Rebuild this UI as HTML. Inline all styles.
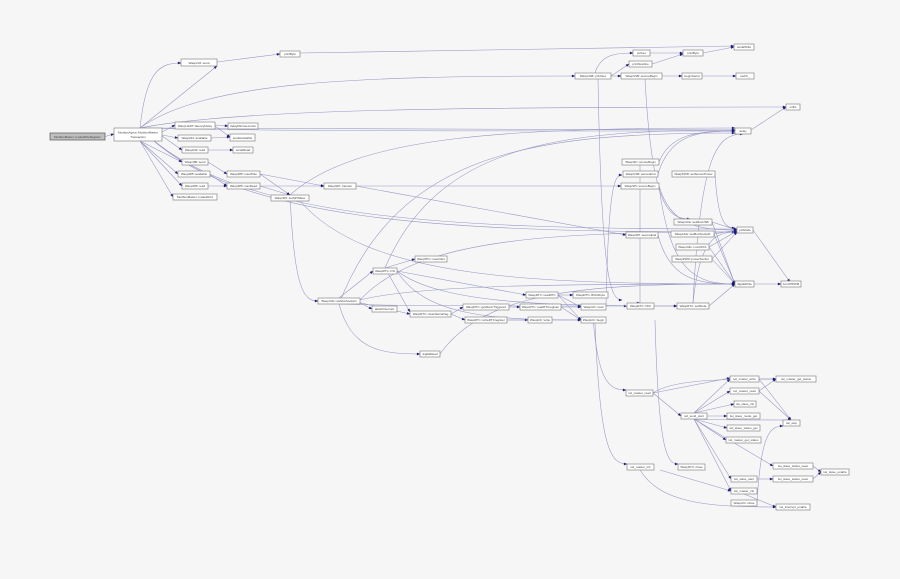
<!DOCTYPE html>
<html><head><meta charset="utf-8"><style>
html,body{margin:0;padding:0;background:#f6f6f6;}
svg{display:block}
text{font-family:"Liberation Sans",sans-serif;font-size:3px;fill:#444;}
rect{fill:#fff;stroke:#888;stroke-width:0.7}
path{fill:none;stroke:#9595c4;stroke-width:0.55}
</style></head><body>
<svg id="g" width="900" height="579" viewBox="0 0 900 579" xmlns="http://www.w3.org/2000/svg">
<g id="edges"></g>
<g id="nodes">
<rect x="50" y="133" width="55" height="7" style="fill:#bfbfbf;stroke:#555"/><text x="77.5" y="137.8" text-anchor="middle">ModbusMaster::makeWriteRegister</text>
<rect x="114" y="128" width="48" height="13"/><text x="138" y="133.5" text-anchor="middle">ModbusAgent::ModbusMaster</text><text x="138" y="138" text-anchor="middle">Transaction</text>
<rect x="181" y="59" width="36" height="7"/><text x="199" y="63.8" text-anchor="middle">Wasp232::send</text>
<rect x="280" y="51" width="20" height="6"/><text x="290" y="55.2" text-anchor="middle">printByte</text>
<rect x="175" y="122" width="40" height="7"/><text x="195" y="126.8" text-anchor="middle">WaspUART::latencyDelay</text>
<rect x="228" y="123" width="30" height="6"/><text x="243" y="127.2" text-anchor="middle">delayMicroseconds</text>
<rect x="178" y="135" width="33" height="6"/><text x="194.5" y="139.2" text-anchor="middle">Wasp232::available</text>
<rect x="230" y="134" width="25" height="7"/><text x="242.5" y="138.8" text-anchor="middle">serialAvailable</text>
<rect x="182" y="147" width="26" height="6"/><text x="195" y="151.2" text-anchor="middle">Wasp232::read</text>
<rect x="233" y="147" width="20" height="6"/><text x="243" y="151.2" text-anchor="middle">serialRead</text>
<rect x="182" y="159" width="26" height="6"/><text x="195" y="163.2" text-anchor="middle">Wasp485::send</text>
<rect x="178" y="171" width="32" height="6"/><text x="194" y="175.2" text-anchor="middle">Wasp485::available</text>
<rect x="182" y="183" width="26" height="6"/><text x="195" y="187.2" text-anchor="middle">Wasp485::read</text>
<rect x="173" y="194" width="44" height="6"/><text x="195" y="198.2" text-anchor="middle">ModbusMaster::makeWord</text>
<rect x="227" y="171" width="33" height="6"/><text x="243.5" y="175.2" text-anchor="middle">Wasp485::maxWrite</text>
<rect x="227" y="183" width="33" height="6"/><text x="243.5" y="187.2" text-anchor="middle">Wasp485::maxRead</text>
<rect x="271" y="195" width="38" height="6"/><text x="290" y="199.2" text-anchor="middle">WaspSPI::setSPISlave</text>
<rect x="324" y="183" width="32" height="6"/><text x="340" y="187.2" text-anchor="middle">WaspSPI::transfer</text>
<rect x="575" y="73" width="36" height="6"/><text x="593" y="77.2" text-anchor="middle">WaspUSB::printHex</text>
<rect x="621" y="73" width="41" height="6"/><text x="641.5" y="77.2" text-anchor="middle">WaspUSB::secureBegin</text>
<rect x="682" y="73" width="20" height="6"/><text x="692" y="77.2" text-anchor="middle">beginSerial</text>
<rect x="736" y="73" width="18" height="6"/><text x="745" y="77.2" text-anchor="middle">serFF_</text>
<rect x="734" y="44" width="20" height="6"/><text x="744" y="48.2" text-anchor="middle">serialWrite</text>
<rect x="683" y="50" width="20" height="6"/><text x="693" y="54.2" text-anchor="middle">printByte</text>
<rect x="633" y="50" width="17" height="6"/><text x="641.5" y="54.2" text-anchor="middle">puthex</text>
<rect x="629" y="61" width="23" height="6"/><text x="640.5" y="65.2" text-anchor="middle">printNewline</text>
<rect x="786" y="104" width="14" height="6"/><text x="793" y="108.2" text-anchor="middle">millis</text>
<rect x="735" y="128" width="16" height="6"/><text x="743" y="132.2" text-anchor="middle">delay</text>
<rect x="622" y="159" width="37" height="6"/><text x="640.5" y="163.2" text-anchor="middle">WaspI2C::secureBegin</text>
<rect x="623" y="171" width="35" height="6"/><text x="640.5" y="175.2" text-anchor="middle">WaspUSB::secureEnd</text>
<rect x="672" y="171" width="43" height="6"/><text x="693.5" y="175.2" text-anchor="middle">WaspPWR::setSensorPower</text>
<rect x="621" y="183" width="38" height="6"/><text x="640" y="187.2" text-anchor="middle">WaspSPI::secureBegin</text>
<rect x="737" y="227" width="16" height="6"/><text x="745" y="231.2" text-anchor="middle">pinMode</text>
<rect x="674" y="219" width="38" height="6"/><text x="693" y="223.2" text-anchor="middle">WaspUtils::setMuxUSB</text>
<rect x="671" y="231" width="43" height="6"/><text x="692.5" y="235.2" text-anchor="middle">WaspUtils::setMuxSocket0</text>
<rect x="676" y="244" width="33" height="6"/><text x="692.5" y="248.2" text-anchor="middle">WaspUtils::muxOFF1</text>
<rect x="672" y="256" width="40" height="6"/><text x="692" y="260.2" text-anchor="middle">WaspPWR::powerSocket</text>
<rect x="626" y="232" width="32" height="6"/><text x="642" y="236.2" text-anchor="middle">WaspSPI::secureEnd</text>
<rect x="735" y="281" width="19" height="6"/><text x="744.5" y="285.2" text-anchor="middle">digitalWrite</text>
<rect x="781" y="281" width="20" height="6"/><text x="791" y="285.2" text-anchor="middle">turnOffPWM</text>
<rect x="627" y="303" width="27" height="6"/><text x="640.5" y="307.2" text-anchor="middle">WaspRTC::OFF</text>
<rect x="677" y="303" width="32" height="6"/><text x="693" y="307.2" text-anchor="middle">WaspRTC::setMode</text>
<rect x="318" y="298" width="42" height="6"/><text x="339" y="302.2" text-anchor="middle">WaspUtils::setMuxSocket1</text>
<rect x="373" y="268" width="24" height="6"/><text x="385" y="272.2" text-anchor="middle">WaspRTC::ON</text>
<rect x="415" y="256" width="32" height="6"/><text x="431" y="260.2" text-anchor="middle">WaspRTC::resetVars</text>
<rect x="372" y="306" width="25" height="6"/><text x="384.5" y="310.2" text-anchor="middle">attachInterrupt</text>
<rect x="410" y="311" width="41" height="6"/><text x="430.5" y="315.2" text-anchor="middle">WaspRTC::clearAlarmFlag</text>
<rect x="463" y="304" width="46" height="6"/><text x="486" y="308.2" text-anchor="middle">WaspRTC::getAlarmTriggered</text>
<rect x="520" y="304" width="41" height="6"/><text x="540.5" y="308.2" text-anchor="middle">WaspRTC::readRTCregister</text>
<rect x="465" y="317" width="42" height="6"/><text x="486" y="321.2" text-anchor="middle">WaspRTC::writeRTCregister</text>
<rect x="528" y="317" width="24" height="6"/><text x="540" y="321.2" text-anchor="middle">WaspI2C::write</text>
<rect x="526" y="292" width="32" height="6"/><text x="542" y="296.2" text-anchor="middle">WaspRTC::readRTC</text>
<rect x="573" y="292" width="35" height="6"/><text x="590.5" y="296.2" text-anchor="middle">WaspRTC::BCD2byte</text>
<rect x="581" y="304" width="25" height="6"/><text x="593.5" y="308.2" text-anchor="middle">WaspI2C::read</text>
<rect x="581" y="317" width="25" height="6"/><text x="593.5" y="321.2" text-anchor="middle">WaspI2C::begin</text>
<rect x="420" y="351" width="20" height="6"/><text x="430" y="355.2" text-anchor="middle">digitalRead</text>
<rect x="626" y="390" width="27" height="6"/><text x="639.5" y="394.2" text-anchor="middle">twi_master_read</text>
<rect x="730" y="376" width="29" height="6"/><text x="744.5" y="380.2" text-anchor="middle">twi_master_write</text>
<rect x="776" y="376" width="40" height="6"/><text x="796" y="380.2" text-anchor="middle">twi_master_get_status</text>
<rect x="730" y="388" width="29" height="6"/><text x="744.5" y="392.2" text-anchor="middle">twi_master_read</text>
<rect x="734" y="401" width="22" height="6"/><text x="745" y="405.2" text-anchor="middle">twi_slave_init</text>
<rect x="681" y="413" width="26" height="6"/><text x="694" y="417.2" text-anchor="middle">twi_send_start</text>
<rect x="727" y="413" width="33" height="6"/><text x="743.5" y="417.2" text-anchor="middle">twi_slave_mode_get</text>
<rect x="727" y="425" width="33" height="6"/><text x="743.5" y="429.2" text-anchor="middle">twi_slave_status_get</text>
<rect x="726" y="437" width="35" height="6"/><text x="743.5" y="441.2" text-anchor="middle">twi_master_get_status</text>
<rect x="783" y="420" width="17" height="6"/><text x="791.5" y="424.2" text-anchor="middle">twi_stop</text>
<rect x="627" y="464" width="27" height="6"/><text x="640.5" y="468.2" text-anchor="middle">twi_master_init</text>
<rect x="678" y="464" width="27" height="6"/><text x="691.5" y="468.2" text-anchor="middle">WaspRTC::close</text>
<rect x="773" y="463" width="40" height="6"/><text x="793" y="467.2" text-anchor="middle">twi_slave_status_reset</text>
<rect x="821" y="469" width="28" height="6"/><text x="835" y="473.2" text-anchor="middle">twi_slave_enable</text>
<rect x="731" y="476" width="26" height="6"/><text x="744" y="480.2" text-anchor="middle">twi_slave_start</text>
<rect x="773" y="476" width="40" height="6"/><text x="793" y="480.2" text-anchor="middle">twi_slave_status_reset</text>
<rect x="731" y="488" width="26" height="6"/><text x="744" y="492.2" text-anchor="middle">twi_master_init</text>
<rect x="731" y="500" width="26" height="6"/><text x="744" y="504.2" text-anchor="middle">WaspI2C::close</text>
<rect x="776" y="504" width="34" height="6"/><text x="793" y="508.2" text-anchor="middle">twi_interrupt_enable</text>
</g>
</svg>
<script>
// fit labels inside boxes
document.querySelectorAll('#nodes rect').forEach(function(r){
  var t=r.nextElementSibling; var w=+r.getAttribute('width')-3;
  while(t&&t.tagName==='text'){ if(t.getComputedTextLength()>w){t.setAttribute('textLength',w);t.setAttribute('lengthAdjust','spacingAndGlyphs');} t=t.nextElementSibling; }
});
var E=[
[105,136.5,114,134],
[140,128,181,63,1],[140,128,217,66],[140,128,575,76,1],[140,128,735,130,1],[140,128,735,131,1],[140,128,786,107,1],[140,128,735,232,1],[140,128,737,229,1],
[162,132,175,125],[162,135,178,138],[162,136,182,150],[140,141,182,162],[140,141,178,174],[140,141,182,186],[140,141,173,197],
[217,62,280,54],[300,53,734,46],[215,125,228,126],[215,126,230,137],[211,138,230,137],[208,150,233,150],
[208,162,227,174],[209,174,227,186],[208,186,227,186],[260,174,324,186],[260,174,290,195],[260,186,290,195],[260,186,324,186],
[290,195,318,301,1],[290,195,735,128,1],[300,201,735,284,1],[356,186,621,186],[356,186,626,235],
[611,76,621,76],[595,73,633,53,1],[611,76,629,64],[650,53,683,53],[652,64,683,54],[703,53,734,47],[662,76,682,76],[702,76,736,76],
[751,130,786,107],[754,284,781,284],[753,230,790,282],
[659,162,735,131,1],[658,174,735,131,1],[715,174,735,228,1],[659,186,737,230,1],[659,186,735,284,1],[640,165,640,303,1],[598,79,622,300,1],[645,79,690,219,1],
[712,222,737,230],[714,234,737,230],[709,247,737,231],[712,259,737,232],[712,222,735,284],[714,234,735,284],[709,247,735,284],[712,259,735,284],[658,235,735,284,1],
[654,306,677,306],[693,303,737,232,1],[709,306,735,284],[693,303,743,134,1],
[339,298,373,271],[339,298,410,314],[360,303,372,309],[339,304,420,354,1],[360,300,735,284,1],[360,300,737,232,1],[339,304,735,133,1],[339,304,627,306,1],
[385,268,415,259],[385,268,410,312],[397,271,526,295],[397,271,581,320,1],[397,271,677,306,1],[385,268,735,130,1],
[451,314,463,307],[451,314,465,320],[509,307,520,307],[561,307,581,307],[561,307,581,320],[507,320,528,320],[507,320,581,320],[558,295,573,295],[558,295,581,307],[558,295,581,320],
[606,307,622,175,1],[593,317,626,390,1],[595,323,627,464,1],[440,354,735,284,1],
[653,393,730,378],[653,393,681,416],[653,393,776,379,1],[694,413,730,379],[694,413,730,391],[694,413,734,404],[707,416,727,416],[694,419,727,428],[694,419,726,440],[694,419,773,466],[694,419,731,479],[694,419,731,491],[759,379,776,379],[759,391,776,379],[759,379,791,420],[759,391,791,420],[694,419,791,420,1],[813,466,821,472],[757,479,773,479],[813,479,821,472],[744,494,776,507],[757,503,783,426,1],[640,470,776,507,1],[660,470,731,491],[655,320,678,464,1]
];
var g=document.getElementById('edges'),s='';
E.forEach(function(e){var x1=e[0],y1=e[1],x2=e[2],y2=e[3],d;
if(e[4]){d='M'+x1+','+y1+' C'+(x1+(x2-x1)*0.15)+','+(y1+(y2-y1)*0.9)+' '+(x1+(x2-x1)*0.5)+','+y2+' '+x2+','+y2;}
else d='M'+x1+','+y1+' L'+x2+','+y2;
s+='<path d="'+d+'"/>';
var a=Math.atan2(y2-(e[4]?y2:y1),x2-(e[4]?(x1+(x2-x1)*0.5):x1));
var ax=x2-3*Math.cos(a),ay=y2-3*Math.sin(a);
s+='<polygon points="'+x2+','+y2+' '+(ax+1.1*Math.sin(a))+','+(ay-1.1*Math.cos(a))+' '+(ax-1.1*Math.sin(a))+','+(ay+1.1*Math.cos(a))+'" style="fill:#1a1a7a;stroke:#1a1a7a;stroke-width:0.3"/>';});
g.innerHTML=s;
</script>
</body></html>
